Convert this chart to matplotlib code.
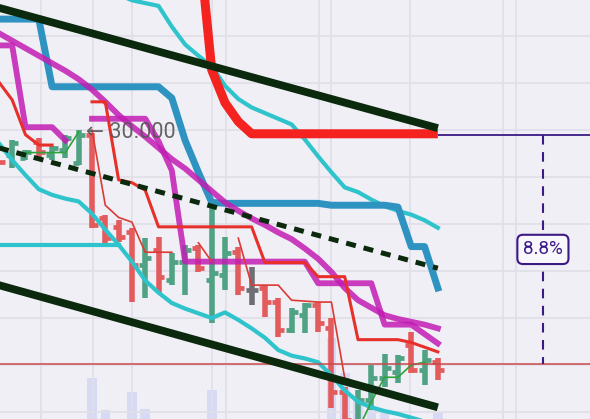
import numpy as np
import matplotlib.pyplot as plt

nan = np.nan

# candles, bar index 0..33 (33 = last bar)
opens  = [29.89, 29.73, 29.70, 29.87, 29.73, 29.79, 29.65, 29.95, 29.06, 28.97,
          28.91, 28.56, 28.72, 28.40, 28.60, 28.75, 28.40, 28.46, 28.70, 28.30,
          28.32, 28.17, 27.87, 28.03, 28.14, 27.89, 27.21, 26.81, 27.13, 27.36,
          27.43, 27.71, 27.45, 27.53]
highs  = [30.00, 29.89, 29.79, 29.91, 29.83, 29.95, 30.00, 29.97, 29.10, 29.04,
          28.96, 28.85, 28.86, 28.69, 28.78, 28.78, 29.18, 28.86, 28.76, 28.54,
          28.35, 28.21, 28.11, 28.16, 28.17, 28.00, 27.27, 27.23, 27.50, 27.62,
          27.61, 27.85, 27.66, 27.57]
lows   = [29.45, 29.60, 29.68, 29.68, 29.68, 29.70, 29.63, 28.96, 28.78, 28.81,
          28.17, 28.21, 28.27, 28.35, 28.24, 28.49, 27.95, 28.30, 28.24, 28.14,
          28.01, 27.80, 27.84, 27.84, 27.85, 27.04, 26.81, 26.70, 27.02, 27.27,
          27.31, 27.42, 27.29, 27.34]
closes = [29.66, 29.86, 29.77, 29.77, 29.81, 29.91, 29.95, 28.99, 28.85, 28.86,
          28.56, 28.64, 28.44, 28.60, 28.72, 28.53, 28.48, 28.69, 28.32, 28.30,
          28.17, 27.87, 28.06, 28.14, 27.95, 27.21, 26.92, 27.13, 27.36, 27.47,
          27.57, 27.45, 27.55, 27.45]
volume = [0, 0, 0, 0, 0, 0, 0, 9.8, 2.1, 0,
          6.4, 2.4, 0, 0, 0, 0, 6.9, 0, 0, 0,
          0, 0, 0, 0, 0, 19.3, 11.0, 4.5, 2.9, 2.1,
          0, 0, 0, 1.4]

# indicator lines (one value per bar)
cyan_low = [29.86, 29.68, 29.52, 29.37, 29.31, 29.27, 29.24, 29.11, 28.94, 28.78,
            28.60, 28.40, 28.27, 28.16, 28.10, 28.05, 28.00, 28.06, 27.98, 27.89,
            27.79, 27.66, 27.60, 27.57, 27.53, 27.39, 27.23, 27.11, 27.05, 27.01,
            26.98, 26.94, 26.90, 26.86]
cyan_high = [nan] * 9 + [31.44, 31.38, 31.35, 31.32, 31.10, 30.91, 30.79, 30.68, 30.47,
                         30.33, 30.24, 30.18, 30.12, 30.06, 29.90, 29.72, 29.55, 29.39,
                         29.34, 29.26, 29.19, 29.14, 29.10, 29.04, 28.96]
cyan_flat = [28.78] * 10 + [nan] * 24
blue_line = [31.18, 31.18, 31.18, 31.18, 30.46, 30.46, 30.46, 30.46, 30.46, 30.46,
             30.46, 30.46, 30.46, 30.34, 29.89, 29.55, 29.23, 29.22, 29.22, 29.22,
             29.22, 29.22, 29.22, 29.22, 29.22, 29.20, 29.20, 29.20, 29.20, 29.20,
             29.18, 28.76, 28.76, 28.32]
magenta_ma = [31.03, 30.95, 30.87, 30.79, 30.71, 30.63, 30.54, 30.43, 30.30, 30.16,
              30.04, 29.93, 29.81, 29.69, 29.59, 29.47, 29.35, 29.23, 29.14, 29.06,
              28.99, 28.91, 28.84, 28.74, 28.63, 28.49, 28.32, 28.19, 28.11, 28.03,
              27.99, 27.96, 27.93, 27.89]
magenta_stop = [30.90, 30.90, 30.03, 30.03, 30.03, 29.89, nan, 30.12, 30.12, 30.12,
                30.12, 30.12, 29.88, 29.57, 28.60, 28.60, 28.60, 28.60, 28.60, 28.60,
                28.60, 28.60, 28.60, 28.60, 28.37, 28.37, 28.37, 28.37, 28.37, 27.93,
                27.93, 27.93, 27.83, 27.73]
red_stop = [30.51, 30.32, 29.95, 29.84, 29.84, nan, nan, 30.30, 30.30, 29.47,
            29.44, 29.36, 28.97, 28.97, 28.97, 28.97, 28.97, 28.97, 28.97, 28.97,
            28.59, 28.59, 28.59, 28.59, 28.44, 28.44, 28.44, 27.77, 27.77, 27.77,
            27.77, 27.74, 27.69, 27.64]
red_heavy = [nan] * 15 + [32.07, 30.64, 30.29, 30.09] + [29.96] * 15
trail_down = [nan] * 7 + [30.00, 29.20, 29.07, 29.02, 28.70, 28.70, 28.70, nan, 28.80,
                          28.60, nan, 28.85, 28.35, 28.35, 28.35, 28.19, 28.18, 28.17,
                          28.17, 27.36, 27.31, nan, nan, nan, nan, nan, nan]
trail_up = [nan, nan, 29.76, 29.76, 29.76, 29.76, 29.98] + [nan] * 20 + \
           [26.81, 27.11, 27.37, 27.37, 27.50, 27.53, nan]

# channel lines: [first bar, last bar], [value at first, value at last]
chan_bars = [0, 33]
chan_upper = [31.30, 30.02]
chan_mid = [29.81, 28.53]
chan_lower = [28.35, 27.05]

# measure box
level_hi = 29.95
level_lo = 27.51
measure_bar = 40.9
measure_label = "8.8%"
high_label = "30.000"

bg = '#f0eff5'
fig = plt.figure(figsize=(5.9, 4.19), dpi=100, facecolor=bg)
ax2 = fig.add_axes([0, 0, 1, 1])
ax = fig.add_axes([0, 0, 1, 1])
ax2.set_facecolor(bg)
ax.patch.set_visible(False)

x = np.arange(len(opens))

# volume
ax2.bar(x, volume, width=0.72, color='#cdd2f4', alpha=0.7)
ax2.set_ylim(0, 100)
ax2.set_xlim(0.083, 44.44)
ax2.axis('off')

# grid
ax.set_xticks([3.2, 7.05, 10.0, 16.0, 17.1, 24.1, 25.0, 30.9, 37.9, 38.9])
ax.set_yticks(np.arange(27.0, 31.01, 0.5))
ax.grid(True, color='#e0dfe7', lw=1.2)
ax.tick_params(length=0, labelbottom=False, labelleft=False)
for s in ax.spines.values():
    s.set_visible(False)

# ohlc bars
for i in x:
    o, h, l, c = opens[i], highs[i], lows[i], closes[i]
    if c > o:
        col = '#4fa283'
    elif c < o:
        col = '#e35b5c'
    else:
        col = '#6e6e74'
    ax.vlines(i, l, h, color=col, lw=4.0, zorder=2)
    ax.hlines(o, i - 0.45, i, color=col, lw=3.4, zorder=2)
    ax.hlines(c, i, i + 0.45, color=col, lw=3.4, zorder=2)

ax.plot(x, cyan_flat, color='#2fc3cc', lw=3.0, zorder=3)
ax.plot(x, cyan_low, color='#2fc3cc', lw=3.0, zorder=3)
ax.plot(x, cyan_high, color='#2fc3cc', lw=3.0, zorder=3)
ax.plot(x, blue_line, color='#2e93c1', lw=5.0, zorder=3)
ax.plot(x, magenta_ma, color='#c21db3', lw=4.2, alpha=0.85, zorder=3)
ax.plot(x, magenta_stop, color='#c21db3', lw=4.2, alpha=0.85, zorder=3)
ax.plot(x, red_stop, color='#e8302b', lw=2.2, zorder=4)
ax.plot(x, trail_down, color='#dc3a34', lw=1.2, zorder=4)
ax.plot(x, trail_up, color='#2fa23c', lw=1.2, zorder=4)
ax.plot(x, red_heavy, color='#f52320', lw=6.5, solid_capstyle='butt', zorder=4)

ax.plot(chan_bars, chan_upper, color='#0b290c', lw=5.6, solid_capstyle='butt', zorder=5)
ax.plot(chan_bars, chan_lower, color='#0b290c', lw=5.6, solid_capstyle='butt', zorder=5)
ax.plot(chan_bars, chan_mid, color='#0b290c', lw=3.6, dashes=(2.0, 1.6), zorder=5)

# levels and measure
ax.axhline(level_lo, color='#c9494a', lw=1.1, zorder=4)
ax.hlines(level_hi, chan_bars[1], 45, color='#3b1a86', lw=1.3, zorder=4)
ax.plot([measure_bar, measure_bar], [level_hi, level_lo], color='#3b1a86', lw=1.5,
        dashes=(4.6, 3.6), zorder=4)
ax.text(measure_bar, (level_hi + level_lo) / 2, measure_label, ha='center', va='center',
        fontsize=13.5, family=['Roboto', 'DejaVu Sans'], color='#3b1a86', zorder=6,
        bbox=dict(boxstyle='round,pad=0.3', fc='#f8f7fc', ec='#3b1a86', lw=1.5))

ax.text(6.55, highs[6], '\u2190 ' + high_label, ha='left', va='center_baseline',
        fontsize=15.5, family=['Roboto', 'DejaVu Sans'], color='#555555', alpha=0.9, zorder=6)

ax.set_xlim(0.083, 44.44)
ax.set_ylim(26.926, 31.383)

fig.savefig('out.png', dpi=100, facecolor=bg)
